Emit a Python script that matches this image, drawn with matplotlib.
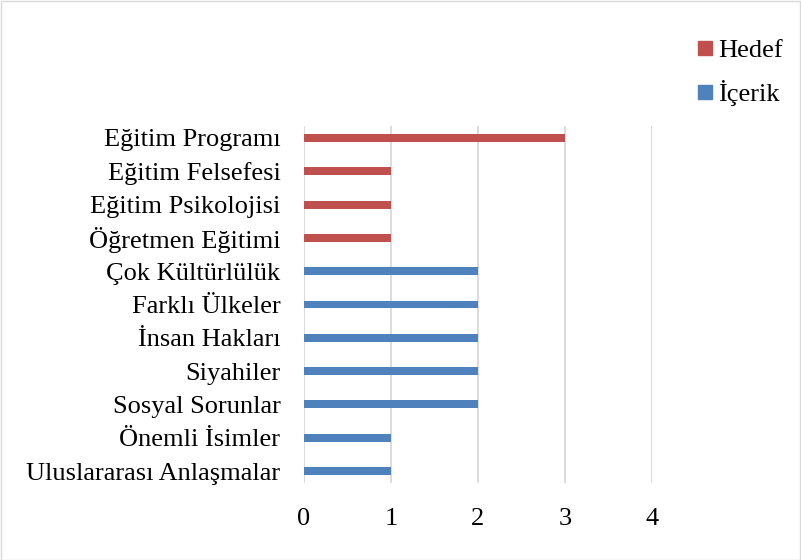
import matplotlib.pyplot as plt
from matplotlib.patches import Rectangle
from matplotlib.lines import Line2D

# data, top to bottom
categories = ['Eğitim Programı', 'Eğitim Felsefesi', 'Eğitim Psikolojisi', 'Öğretmen Eğitimi',
              'Çok Kültürlülük', 'Farklı Ülkeler', 'İnsan Hakları', 'Siyahiler',
              'Sosyal Sorunlar', 'Önemli İsimler', 'Uluslararası Anlaşmalar']
values = [3, 1, 1, 1, 2, 2, 2, 2, 2, 1, 1]
groups = ['Hedef', 'Hedef', 'Hedef', 'Hedef',
          'İçerik', 'İçerik', 'İçerik', 'İçerik', 'İçerik', 'İçerik', 'İçerik']
group_colors = {'Hedef': '#C0504D', 'İçerik': '#4F81BD'}
xticks = [0, 1, 2, 3, 4]

plt.rcParams['font.family'] = ['Liberation Serif', 'DejaVu Serif']

fig = plt.figure(figsize=(8.01, 5.60), dpi=100)
W, H = 801, 560
ax = fig.add_axes([304 / W, 1 - 483 / H, 348 / W, 357 / H])

ypos = list(range(len(categories)))
colors = [group_colors[g] for g in groups]
ax.barh(ypos, values, height=0.24, color=colors, zorder=3)

ax.set_ylim(10.36, -0.36)
ax.set_xlim(0, 4)
ax.set_xticks(xticks)
ax.set_yticks(ypos)
ax.set_yticklabels(categories)
ax.tick_params(axis='both', length=0, labelsize=19)
ax.tick_params(axis='y', pad=17)
ax.tick_params(axis='x', pad=18)

ax.grid(True, axis='x', color='#d9d9d9', linewidth=1.3, zorder=0)
for s in ax.spines.values():
    s.set_visible(False)

# legend
handles = [Line2D([], [], marker='s', linestyle='', markersize=10,
                  color=group_colors[g]) for g in ['Hedef', 'İçerik']]
fig.legend(handles, ['Hedef', 'İçerik'], loc='upper left',
           bbox_to_anchor=(671 / W, 1 - 15 / H), frameon=False, fontsize=19,
           handletextpad=0.1, labelspacing=0.68, handlelength=0.8)

# chart border
fig.add_artist(Rectangle((0.5 / W, 0.5 / H), 1 - 1.5 / W, 1 - 1.5 / H,
                         transform=fig.transFigure, fill=False,
                         edgecolor='#d9d9d9', linewidth=1))

plt.savefig('out.png', dpi=100)
